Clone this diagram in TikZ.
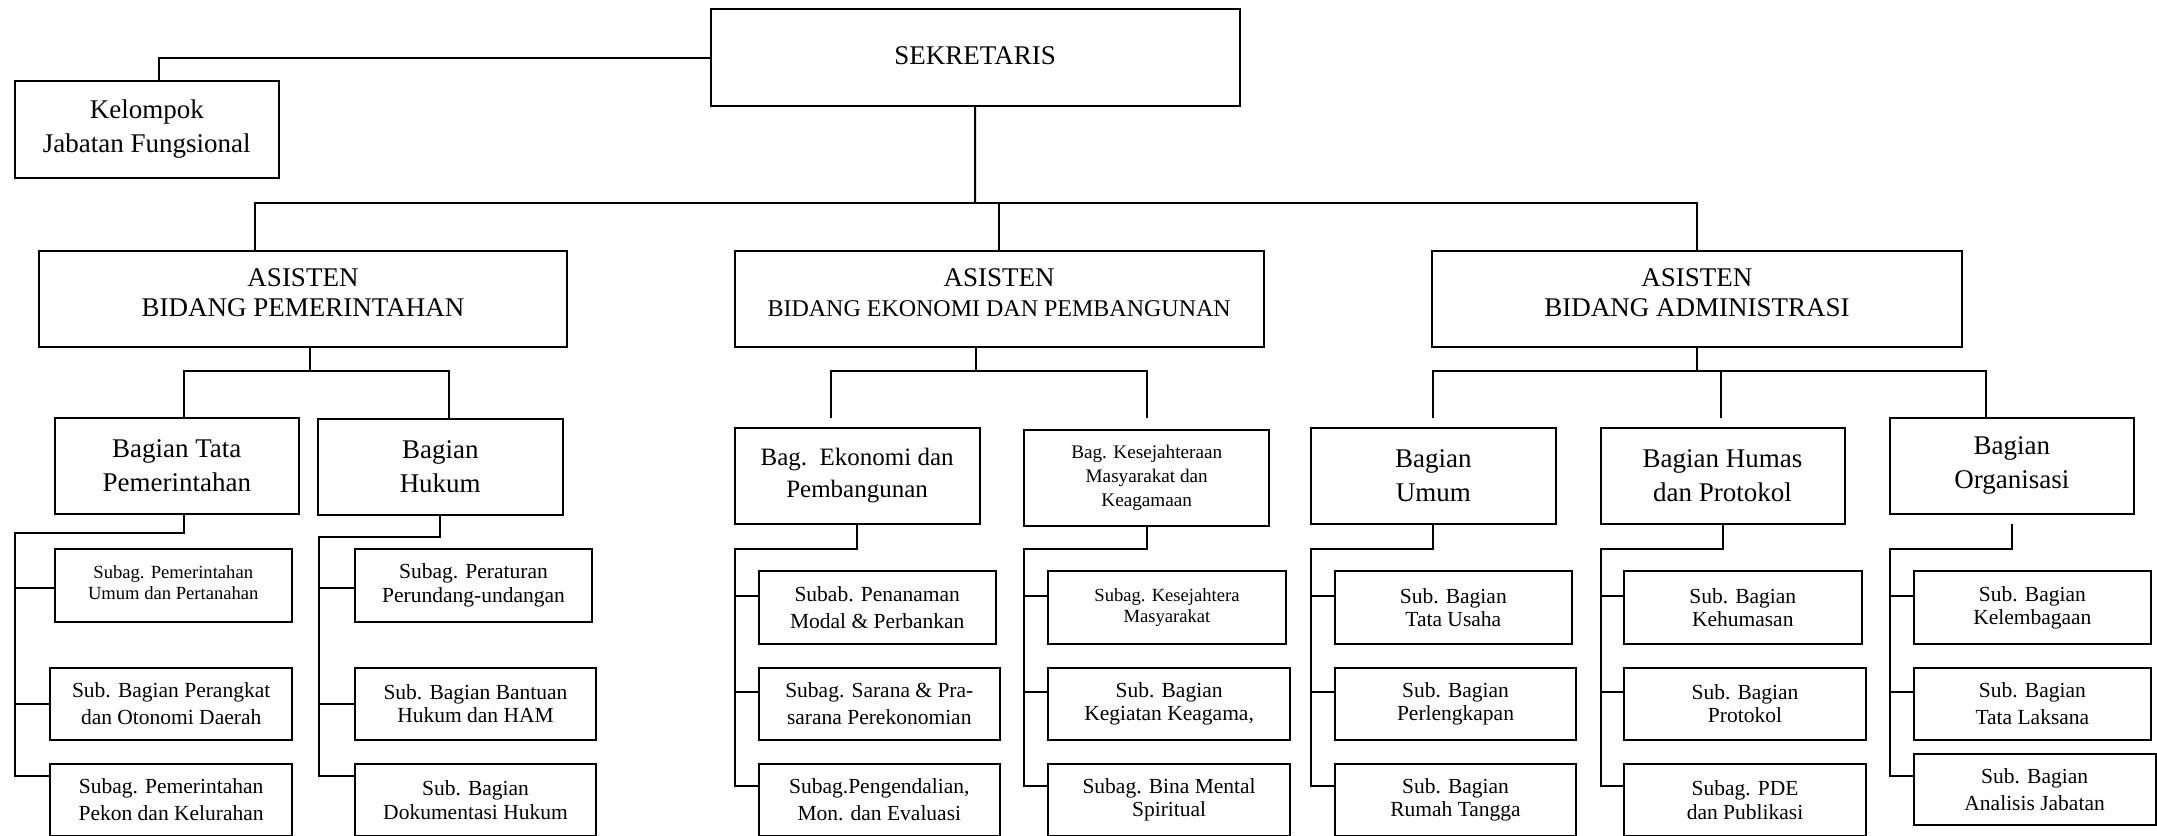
\documentclass[tikz,border=0pt]{standalone}
\usepackage{fontspec}
\setmainfont{Liberation Serif}
\newcommand\fTop{\fontsize{13.5}{15.3}\selectfont}
\newcommand\fKel{\fontsize{13.5}{17}\selectfont}
\newcommand\fEko{\fontsize{12}{15}\selectfont}
\newcommand\fBag{\fontsize{13.5}{17}\selectfont}
\newcommand\fBagE{\fontsize{12.5}{16}\selectfont}
\newcommand\fKes{\fontsize{9.6}{12}\selectfont}
\newcommand\fSub{\fontsize{10.75}{11.75}\selectfont}
\newcommand\fSubW{\fontsize{10.75}{13.5}\selectfont}
\newcommand\fSm{\fontsize{9.3}{10.5}\selectfont}
\newcommand\BX[7]{\node[box,font=#6,minimum width={(#4-#2)*0.5pt},minimum height={(#5-#3)*0.5pt}] (#1) at ({(#2+#4)/2},{(#3+#5)/2}) {#7};}
\begin{document}
\begin{tikzpicture}[x=0.5pt,y=-0.5pt,
  box/.style={draw,line width=1pt,inner sep=0pt,align=center},
  conn/.style={draw,line width=1pt}]
\useasboundingbox (0,0) rectangle (2157,835);
\clip (0,0) rectangle (2157,835);
% top level
\BX{sek}{710.6}{9.3}{1239.6}{106}{\fTop}{SEKRETARIS\rule[-1.65pt]{0pt}{1pt}}
\BX{kel}{15}{81}{278.6}{177.7}{\fKel}{Kelompok\\Jabatan Fungsional}
\BX{a1}{39}{251}{567}{347}{\fTop}{ASISTEN\\BIDANG PEMERINTAHAN\rule[-6.5pt]{0pt}{1pt}}
\BX{a2}{734.7}{251}{1263.7}{347}{\fTop}{ASISTEN\\{\fEko BIDANG EKONOMI DAN PEMBANGUNAN}\rule[-6.5pt]{0pt}{1pt}}
\BX{a3}{1431.9}{251}{1962}{347}{\fTop}{ASISTEN\\BIDANG ADMINISTRASI\rule[-6.5pt]{0pt}{1pt}}
% bagian level
\BX{btp}{54.5}{417.7}{299}{513.7}{\fBag}{Bagian Tata\\Pemerintahan}
\BX{huk}{318}{419}{562.5}{515}{\fBag}{Bagian\\Hukum}
\BX{eko}{734.6}{427.7}{979.6}{524}{\fBagE}{Bag.\ \ Ekonomi dan\\Pembangunan}
\BX{kes}{1024.4}{430}{1269}{526.3}{\fKes}{Bag. Kesejahteraan\\Masyarakat dan\\Keagamaan}
\BX{umu}{1311}{427.7}{1555.5}{524}{\fBag}{Bagian\\Umum}
\BX{hum}{1600.5}{427.7}{1844.5}{524}{\fBag}{Bagian Humas\\dan Protokol}
\BX{org}{1889.6}{417.7}{2134}{514}{\fBag}{Bagian\\Organisasi}
% sub level
\BX{s1}{54.5}{549}{292}{621.7}{\fSm}{Subag. Pemerintahan\\Umum dan Pertanahan\rule[-2.5pt]{0pt}{1pt}}
\BX{s2}{50.3}{667.7}{292}{739.7}{\fSubW}{Sub. Bagian Perangkat\\dan Otonomi Daerah}
\BX{s3}{50.3}{764}{292}{836}{\fSubW}{Subag. Pemerintahan\\Pekon dan Kelurahan}
\BX{h1}{355}{549}{592}{621.7}{\fSub}{Subag. Peraturan\\Perundang-undangan}
\BX{h2}{355}{667.7}{596}{739.7}{\fSub}{Sub. Bagian Bantuan\\Hukum dan HAM}
\BX{h3}{355}{764}{596}{836}{\fSub}{Sub. Bagian\\Dokumentasi Hukum}
\BX{e1}{758.6}{571.3}{995.8}{644}{\fSubW}{Subab. Penanaman\\Modal \& Perbankan}
\BX{e2}{758.6}{667.7}{1000}{739.7}{\fSubW}{Subag. Sarana \& Pra-\\sarana Perekonomian}
\BX{e3}{758.6}{764}{1000}{836}{\fSubW}{Subag.Pengendalian,\\Mon. dan Evaluasi}
\BX{k1}{1048.4}{571.3}{1285.6}{644}{\fSm}{Subag. Kesejahtera\\Masyarakat}
\BX{k2}{1048.4}{667.7}{1289.8}{739.7}{\fSub}{Sub. Bagian\\Kegiatan Keagama,}
\BX{k3}{1048.4}{764}{1289.8}{836}{\fSub}{Subag. Bina Mental\\Spiritual}
\BX{u1}{1334.6}{571.3}{1572}{644}{\fSub}{Sub. Bagian\\Tata Usaha}
\BX{u2}{1334.6}{667.7}{1576.4}{739.7}{\fSub}{Sub. Bagian\\Perlengkapan}
\BX{u3}{1334.6}{764}{1576.4}{836}{\fSub}{Sub. Bagian\\Rumah Tangga}
\BX{p1}{1624}{571.3}{1861.5}{644}{\fSub}{Sub. Bagian\\Kehumasan}
\BX{p2}{1624}{667.7}{1866}{739.7}{\fSub}{Sub. Bagian\\Protokol}
\BX{p3}{1624}{764}{1866}{836}{\fSub}{Subag. PDE\\dan Publikasi}
\BX{o1}{1913.7}{571.3}{2151}{644}{\fSub}{Sub. Bagian\\Kelembagaan}
\BX{o2}{1913.7}{667.7}{2151}{739.7}{\fSubW}{Sub. Bagian\\Tata Laksana}
\BX{o3}{1913.7}{754}{2155.5}{825}{\fSubW}{Sub. Bagian\\Analisis Jabatan}
% connectors top
\coordinate (b0) at (975,202.7);
\draw[conn] (sek.south) -- (b0);
\draw[conn] (sek.west) -| ([xshift=6.1pt]kel.north);
\draw[conn] ([xshift=-24.2pt]a1.north) |- (b0) -| (a3.north);
\draw[conn] (a2.north) -- (a2.north |- b0);
% group A1
\coordinate (b1) at (310,371);
\draw[conn] (a1.south -| b1) -- (b1);
\draw[conn] ([xshift=3.5pt]btp.north) |- (b1) -| ([xshift=4.4pt]huk.north);
\coordinate (c1) at (14.8,533.3);
\draw[conn] ([xshift=3.5pt]btp.south) |- (c1) |- ([yshift=-6.5pt]s3.north west);
\draw[conn] ([yshift=-1.2pt]s1.west) -| (c1);
\draw[conn] (s2.west) -| (c1);
\coordinate (c2) at (319.3,537.3);
\draw[conn] (huk.south) |- (c2) |- ([yshift=-6.5pt]h3.north west);
\draw[conn] ([yshift=-1.2pt]h1.west) -| (c2);
\draw[conn] (h2.west) -| (c2);
% group A2
\coordinate (b2) at (976,371);
\draw[conn] (a2.south -| b2) -- (b2);
\draw[conn,shorten <=4.2pt,shorten >=5.3pt] ([xshift=-13.05pt]eko.north) |- (b2) -| (kes.north);
\coordinate (c3) at (734.6,549.3);
\draw[conn] (eko.south) |- (c3) |- ([yshift=-11.6pt]e3.north west);
\draw[conn] ([yshift=5.9pt]e1.west) -| (c3);
\draw[conn] ([yshift=6pt]e2.west) -| (c3);
\coordinate (c4) at (1024.4,549.3);
\draw[conn] (kes.south) |- (c4) |- ([yshift=-11.6pt]k3.north west);
\draw[conn] ([yshift=5.9pt]k1.west) -| (c4);
\draw[conn] ([yshift=6pt]k2.west) -| (c4);
% group A3
\coordinate (b3) at (1696.7,371);
\draw[conn] (a3.south) -- (a3.south |- b3);
\draw[conn,shorten <=4.2pt] (umu.north) |- (b3) -| ([xshift=-12.75pt]org.north);
\coordinate (hd) at ([xshift=-0.75pt]hum.north);
\draw[conn,shorten >=4.2pt] (b3 -| hd) -- (hd);
\coordinate (c5) at (1311,549.3);
\draw[conn] (umu.south) |- (c5) |- ([yshift=-11.6pt]u3.north west);
\draw[conn] ([yshift=5.9pt]u1.west) -| (c5);
\draw[conn] ([yshift=6pt]u2.west) -| (c5);
\coordinate (c6) at (1600.5,549.3);
\draw[conn] (hum.south) |- (c6) |- ([yshift=-11.6pt]p3.north west);
\draw[conn] ([yshift=5.9pt]p1.west) -| (c6);
\draw[conn] ([yshift=6pt]p2.west) -| (c6);
\coordinate (c7) at (1889.6,549.3);
\draw[conn,shorten <=4.5pt] (org.south) |- (c7) |- ([yshift=-11.6pt]o3.north west);
\draw[conn] ([yshift=5.9pt]o1.west) -| (c7);
\draw[conn] ([yshift=6pt]o2.west) -| (c7);
\end{tikzpicture}
\end{document}
